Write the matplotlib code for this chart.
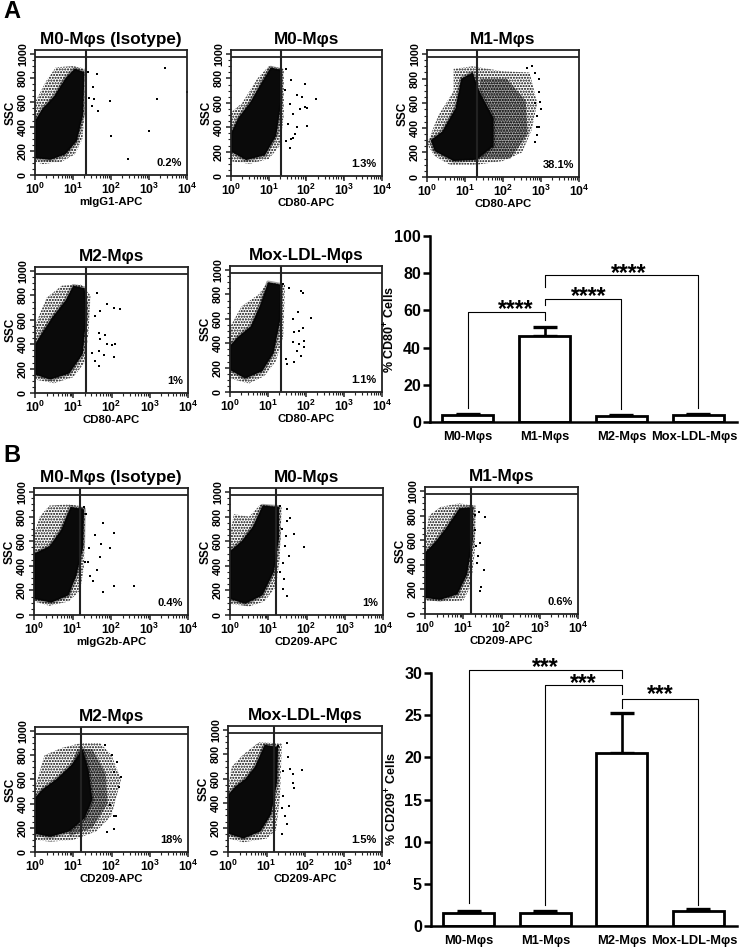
import numpy as np
import matplotlib
matplotlib.use('Agg')
import matplotlib.pyplot as plt
from matplotlib.patches import Polygon
from matplotlib.ticker import MultipleLocator, FixedLocator
from matplotlib.transforms import ScaledTranslation

plt.rcParams['font.family'] = ['Liberation Sans', 'DejaVu Sans']
plt.rcParams['font.weight'] = 'bold'
plt.rcParams['axes.titleweight'] = 'bold'
plt.rcParams['axes.labelweight'] = 'bold'
plt.rcParams['mathtext.fontset'] = 'custom'
plt.rcParams['mathtext.bf'] = 'Liberation Sans:bold'
plt.rcParams['mathtext.rm'] = 'Liberation Sans:bold'

W, H = 740, 948

# flow panels: title, x label, percent
titles_a = ['M0-Mφs (Isotype)', 'M0-Mφs', 'M1-Mφs', 'M2-Mφs', 'Mox-LDL-Mφs']
xlabels_a = ['mIgG1-APC', 'CD80-APC', 'CD80-APC', 'CD80-APC', 'CD80-APC']
percent_a = ['0.2%', '1.3%', '38.1%', '1%', '1.1%']
xlabels_b = ['mIgG2b-APC', 'CD209-APC', 'CD209-APC', 'CD209-APC', 'CD209-APC']
percent_b = ['0.4%', '1%', '0.6%', '18%', '1.5%']

# cloud outlines, (log10 APC, SSC)
outer_a = [
    [(0, 110), (0.2, 90), (0.7, 110), (1.05, 170), (1.25, 300), (1.3, 500), (1.3, 880), (1.0, 900), (0.55, 890), (0.3, 780), (0, 600)],
    [(0, 120), (0.5, 100), (1.0, 140), (1.3, 250), (1.4, 500), (1.4, 880), (1.0, 900), (0.7, 800), (0.3, 600), (0, 520)],
    [(0, 270), (0.2, 170), (0.6, 100), (1.3, 100), (2.0, 130), (2.5, 200), (2.75, 380), (2.9, 600), (2.7, 850), (2.0, 860), (1.2, 900), (0.7, 880), (0.7, 700), (0.3, 500)],
    [(0, 110), (0.5, 80), (1.0, 130), (1.3, 250), (1.4, 500), (1.45, 800), (1.2, 890), (0.7, 880), (0.3, 780), (0, 550)],
    [(0, 110), (0.5, 70), (0.9, 130), (1.2, 250), (1.4, 450), (1.45, 880), (1.0, 900), (0.75, 800), (0.3, 700), (0, 530)],
]
core_a = [
    [(0, 140), (0.4, 125), (0.8, 170), (1.1, 280), (1.27, 500), (1.3, 850), (1.05, 880), (0.8, 800), (0.5, 650), (0.2, 550), (0, 450)],
    [(0, 200), (0.4, 130), (0.9, 170), (1.2, 330), (1.33, 600), (1.33, 870), (1.05, 890), (0.8, 760), (0.5, 600), (0.2, 480), (0, 350)],
    [(0.2, 210), (0.7, 130), (1.3, 140), (1.75, 250), (1.75, 480), (1.4, 680), (1.2, 850), (0.9, 800), (0.75, 560), (0.4, 370), (0.1, 300)],
    [(0, 150), (0.4, 110), (0.9, 160), (1.25, 320), (1.35, 650), (1.3, 860), (1.0, 880), (0.8, 760), (0.45, 620), (0.2, 500), (0, 400)],
    [(0, 180), (0.4, 110), (0.85, 170), (1.15, 320), (1.33, 600), (1.35, 880), (1.0, 900), (0.8, 720), (0.55, 540), (0.2, 450), (0, 380)],
]
outer_b = [
    [(0, 110), (0.4, 75), (0.9, 110), (1.2, 200), (1.3, 400), (1.33, 880), (0.9, 900), (0.4, 890), (0.15, 800), (0, 650)],
    [(0, 90), (0.5, 70), (0.9, 110), (1.2, 230), (1.3, 450), (1.35, 880), (0.8, 900), (0.5, 800), (0.1, 820), (0, 650)],
    [(0, 110), (0.5, 100), (1.0, 110), (1.2, 230), (1.3, 500), (1.33, 880), (0.9, 900), (0.4, 870), (0.1, 800), (0, 580)],
    [(0, 100), (0.4, 85), (1.0, 100), (1.6, 170), (2.0, 300), (2.25, 600), (2.0, 800), (1.7, 900), (1.2, 900), (0.7, 860), (0.25, 800), (0, 530)],
    [(0, 110), (0.4, 80), (1.0, 110), (1.25, 180), (1.35, 450), (1.4, 890), (0.8, 900), (0.4, 800), (0.1, 700), (0, 530)],
]
core_b = [
    [(0, 130), (0.45, 100), (0.9, 160), (1.1, 320), (1.28, 550), (1.3, 860), (0.95, 880), (0.7, 690), (0.4, 560), (0, 500)],
    [(0, 130), (0.4, 90), (0.85, 160), (1.15, 350), (1.28, 620), (1.28, 880), (0.85, 890), (0.6, 720), (0.3, 600), (0, 520)],
    [(0, 130), (0.4, 115), (0.85, 160), (1.1, 320), (1.25, 600), (1.25, 870), (0.9, 860), (0.55, 700), (0.25, 580), (0, 500)],
    [(0, 150), (0.4, 125), (0.9, 170), (1.3, 280), (1.5, 430), (1.4, 680), (1.25, 850), (0.95, 720), (0.55, 600), (0.2, 520), (0, 450)],
    [(0, 150), (0.4, 110), (0.85, 170), (1.12, 310), (1.28, 580), (1.3, 860), (0.95, 880), (0.7, 700), (0.45, 600), (0.2, 540), (0, 470)],
]

# loose events outside the clouds
stray_a = [
    [(1.40, 853), (1.64, 831), (1.52, 729), (1.43, 633), (1.55, 630), (1.97, 610), (3.2, 630), (3.43, 881), (3.99, 688), (1.49, 569), (1.65, 528), (2.0, 326), (3.0, 367), (2.46, 130)],
    [(1.47, 881), (1.6, 785), (1.96, 757), (1.74, 660), (1.87, 646), (2.25, 630), (1.96, 563), (2.02, 558), (2.02, 412), (1.74, 398), (1.65, 508), (1.56, 590), (1.47, 287), (1.6, 301), (1.69, 343), (1.56, 232), (1.43, 702), (1.52, 425), (1.82, 550), (1.65, 315)],
    [(2.96, 795), (2.96, 688), (2.98, 610), (3.0, 555), (2.89, 500), (2.89, 403), (2.96, 403), (2.85, 285), (2.89, 340), (2.76, 900), (2.63, 890), (2.85, 845), (2.85, 605)],
    [(1.62, 823), (1.89, 727), (2.06, 695), (2.22, 687), (1.71, 673), (1.58, 632), (1.67, 496), (1.84, 474), (1.71, 441), (2.1, 400), (2.02, 392), (1.87, 400), (2.06, 292), (1.67, 346), (1.8, 310), (1.67, 223), (1.58, 264), (1.49, 332)],
    [(1.87, 829), (1.93, 810), (1.56, 851), (1.39, 883), (2.13, 603), (1.78, 658), (1.65, 598), (1.91, 524), (1.68, 489), (1.82, 503), (1.96, 421), (1.82, 394), (1.65, 408), (1.87, 299), (1.47, 272), (1.69, 245), (1.49, 231), (1.96, 367), (1.75, 340)],
]
stray_b = [
    [(1.79, 751), (2.07, 665), (1.59, 649), (1.74, 576), (1.98, 541), (1.42, 549), (1.72, 473), (1.33, 435), (1.39, 435), (1.63, 365), (1.45, 314), (1.54, 278), (2.07, 232), (2.59, 232), (1.78, 184), (1.36, 819), (1.3, 881)],
    [(1.93, 554), (1.67, 659), (1.48, 859), (1.57, 792), (1.35, 697), (1.55, 476), (1.46, 643), (1.39, 427), (1.42, 292), (1.48, 151), (1.32, 351), (1.43, 562), (1.5, 765), (1.3, 886), (1.39, 211)],
    [(1.57, 791), (1.41, 826), (1.3, 804), (1.43, 576), (1.34, 550), (1.38, 469), (1.54, 357), (1.47, 222), (1.45, 188), (1.32, 684), (1.36, 416)],
    [(2.24, 623), (2.06, 295), (2.13, 295), (1.89, 167), (2.06, 186), (2.15, 746), (2.02, 800), (1.84, 883), (2.19, 541), (2.06, 664), (1.97, 391)],
    [(1.52, 896), (1.91, 669), (1.69, 568), (1.71, 522), (1.61, 677), (1.56, 779), (1.59, 377), (1.52, 227), (1.41, 145), (1.48, 295), (1.43, 459), (1.3, 869), (1.43, 664), (1.69, 637), (1.39, 358)],
]

# denser second population in the two spread-out panels
mid_m1_a = [(1.3, 150), (2.2, 150), (2.65, 350), (2.6, 620), (2.1, 800), (1.4, 800)]
mid_m2_b = [(0.9, 130), (1.5, 200), (1.9, 400), (1.85, 650), (1.5, 850), (1.1, 850), (0.9, 650)]

# gates
gate_x_a = [1.33, 1.33, 1.32, 1.33, 1.33]
gate_x_b = [1.19, 1.2, 1.2, 1.19, 1.2]
gate_y = 975

# bar charts
bar_labels = ['M0-Mφs', 'M1-Mφs', 'M2-Mφs', 'Mox-LDL-Mφs']
cd80_mean = [3.5, 46, 3, 3.5]
cd80_err = [1.0, 5, 0.8, 1.0]
cd209_mean = [1.5, 1.5, 20.5, 1.75]
cd209_err = [0.3, 0.3, 4.8, 0.3]

# brackets: left bar, right bar, level, left end, right end
cd80_brackets = [(0, 1, 59, 7.5, 55), (1, 2, 66, 63, 7), (1, 3, 79, 72.7, 7.5)]
cd209_brackets = [(0, 2, 30.4, 2.7, 29.4), (1, 2, 28.6, 2.5, 27.5), (2, 3, 26.9, 25.9, 2.5)]

fig = plt.figure(figsize=(W / 100, H / 100), dpi=100)


def add_px_axes(left, right, top, bottom):
    return fig.add_axes([left / W, 1 - bottom / H, (right - left) / W, (bottom - top) / H])


def flow_panel(box, title, xlabel, pct, outer, core, stray, gate_x, mid=None):
    ax = add_px_axes(*box)
    ax.set_xlim(0, 4)
    ax.set_ylim(0, 1033)
    ax.add_patch(Polygon(outer, closed=True, facecolor='none', edgecolor='black', hatch='......', lw=0))
    if mid is not None:
        ax.add_patch(Polygon(mid, closed=True, facecolor='none', edgecolor='black', hatch='........', lw=0))
    # soft rim so the dense part fades into the loose part
    ax.add_patch(Polygon(core, closed=True, facecolor='#0a0a0a', edgecolor=(0, 0, 0, 0.35), lw=2.5, joinstyle='round'))
    sx, sy = zip(*stray)
    ax.scatter(sx, sy, s=2.0, marker='s', color='black', lw=0)
    ax.axvline(gate_x, color='#222222', lw=1.5)
    ax.axhline(gate_y, color='#222222', lw=1.3)
    for s in ax.spines.values():
        s.set_linewidth(1.3)
        s.set_color('#222222')
    ax.xaxis.set_major_locator(FixedLocator([0, 1, 2, 3, 4]))
    ax.set_xticklabels(['$\\mathbf{10^{%d}}$' % i for i in range(5)])
    ax.xaxis.set_minor_locator(FixedLocator([d + np.log10(m) for d in range(4) for m in range(2, 10)]))
    ax.yaxis.set_minor_locator(MultipleLocator(50))
    ax.set_yticks([0, 200, 400, 600, 800, 1000])
    ax.tick_params(axis='both', which='major', length=3.5, width=1.1, pad=1.5, color='#222222')
    ax.tick_params(axis='x', which='major', labelsize=8.8)
    ax.tick_params(axis='y', which='major', labelsize=7.8, labelrotation=90)
    ax.tick_params(axis='both', which='minor', length=2, width=0.8, color='#222222')
    for t in ax.get_yticklabels():
        t.set_va('center')
    ax.set_xlabel(xlabel, fontsize=8.2, labelpad=0)
    ax.set_ylabel('SSC', fontsize=8.5, labelpad=1)
    ax.set_title(title, fontsize=12.3, pad=4)
    ax.text(0.965, 0.095, pct, transform=ax.transAxes, ha='right', va='center', fontsize=8)
    return ax


def bar_panel(box, mean, err, ymax, step, ylabel, brackets, star, stars_at):
    ax = add_px_axes(*box)
    x = np.arange(len(mean))
    ax.bar(x, mean, width=0.665, color='white', edgecolor='black', lw=2.0, zorder=2)
    ax.errorbar(x, mean, yerr=[np.zeros(len(err)), err], fmt='none', ecolor='black',
                elinewidth=1.9, capsize=8.6, capthick=2.4, zorder=1)
    ax.set_xlim(-0.495, 3.507)
    ax.set_ylim(0, ymax)
    for lo, hi, level, end_lo, end_hi in brackets:
        ax.plot([lo, lo, hi, hi], [end_lo, level, level, end_hi], color='black', lw=0.8, clip_on=False)
    for (sx, sy) in stars_at:
        ax.text(sx, sy, star, ha='center', va='center', fontsize=16.5, clip_on=False)
    ax.spines['top'].set_visible(False)
    ax.spines['right'].set_visible(False)
    ax.spines['left'].set_linewidth(1.8)
    ax.spines['bottom'].set_linewidth(1.8)
    ax.set_xticks(x)
    ax.set_xticklabels(bar_labels)
    ax.yaxis.set_major_locator(MultipleLocator(step))
    ax.tick_params(axis='x', length=0, labelsize=9.3, pad=6.5)
    ax.tick_params(axis='y', length=5, width=1.8, labelsize=11.5, pad=1.5)
    ax.set_ylabel(ylabel, fontsize=9)
    ax.yaxis.set_label_coords(-0.104, 0.5)
    # the long last label sits a little left of its bar
    last = ax.get_xticklabels()[-1]
    last.set_transform(last.get_transform() + ScaledTranslation(-4 / 100, 0, fig.dpi_scale_trans))
    return ax


boxes_a = [(35, 187, 50, 175), (231, 382, 50, 176), (427, 579, 50, 177), (35, 188, 267, 393), (230, 382, 266, 392)]
boxes_b = [(34, 188, 488, 615), (230, 383, 488, 615), (425, 578, 487, 614), (35, 188, 727, 852), (228, 382, 726, 852)]

for i in range(5):
    flow_panel(boxes_a[i], titles_a[i], xlabels_a[i], percent_a[i], outer_a[i], core_a[i], stray_a[i],
               gate_x_a[i], mid=mid_m1_a if i == 2 else None)
    flow_panel(boxes_b[i], titles_a[i], xlabels_b[i], percent_b[i], outer_b[i], core_b[i], stray_b[i],
               gate_x_b[i], mid=mid_m2_b if i == 3 else None)

bar_panel((430, 737, 236, 422), cd80_mean, cd80_err, 100, 20, '% CD80$\\mathbf{^{+}}$ Cells',
          cd80_brackets, '****', [(0.62, 60.5), (1.58, 67.5), (2.1, 80)])
bar_panel((431, 737, 673, 926), cd209_mean, cd209_err, 30, 5, '% CD209$\\mathbf{^{+}}$ Cells',
          cd209_brackets, '***', [(1.0, 30.6), (1.5, 28.8), (2.5, 27.4)])

fig.text(3 / W, 1 - 12 / H, 'A', fontsize=17, ha='left', va='center')
fig.text(3 / W, 1 - 456 / H, 'B', fontsize=17, ha='left', va='center')

fig.savefig('out.png', dpi=100)
